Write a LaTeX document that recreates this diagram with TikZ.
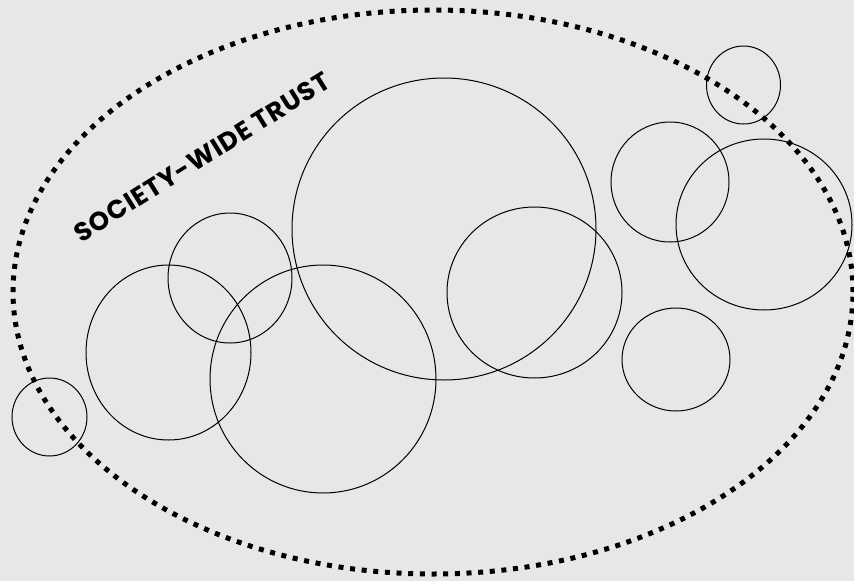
\documentclass[tikz,border=0pt]{standalone}
\usepackage{fontspec}
\newfontfamily\trustfont[LetterSpace=3.5]{Poppins}
\definecolor{paper}{HTML}{E6E7E8}

\begin{document}
\begin{tikzpicture}[x=1pt, y=-1pt,
    ring/.style={draw=black, line width=1pt},
    trustline/.style={draw=black, line width=5pt, dash pattern=on 5pt off 6.67pt},
    banner/.style={rotate=32, inner sep=0pt, font=\trustfont\bfseries\fontsize{26}{26}\selectfont}]
    \fill[paper] (0,0) rectangle (854,581);
    \useasboundingbox (0,0) rectangle (854,581);

    % society-wide boundary
    \draw[trustline] (433,292) ellipse [x radius=420pt, y radius=282pt];

    % groups of personal trust
    \draw[ring] (743.5,85) ellipse [x radius=37pt, y radius=39pt];
    \draw[ring] (670,182) ellipse [x radius=59pt, y radius=60pt];
    \draw[ring] (764,224.5) ellipse [x radius=88pt, y radius=85.5pt];
    \draw[ring] (676,359.5) ellipse [x radius=54pt, y radius=51.5pt];
    \draw[ring] (534.5,292.5) ellipse [x radius=87.5pt, y radius=85.5pt];
    \draw[ring] (444,229) ellipse [x radius=152pt, y radius=151pt];
    \draw[ring] (230,278) ellipse [x radius=62pt, y radius=65pt];
    \draw[ring] (168.5,352.5) ellipse [x radius=82.5pt, y radius=87.5pt];
    \draw[ring] (323,379) ellipse [x radius=113pt, y radius=114pt];
    \draw[ring] (49.5,417) ellipse [x radius=37.5pt, y radius=39pt];

    \node[banner] (trust) at (202,157) {SOCIETY-WIDE TRUST};
\end{tikzpicture}
\end{document}
